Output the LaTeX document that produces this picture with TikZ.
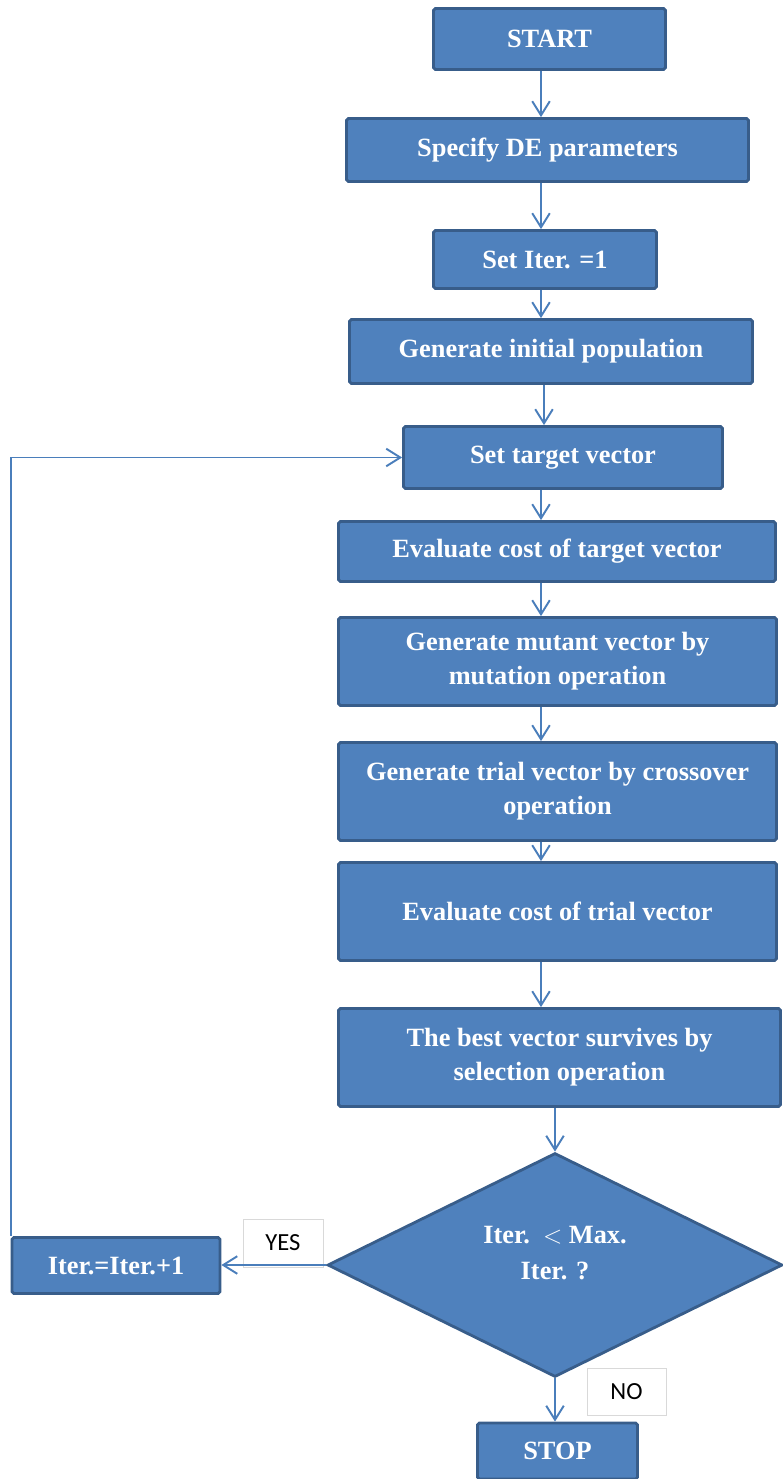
\documentclass[tikz,border=0pt]{standalone}
\usepackage{fontspec}
\setmainfont{Liberation Serif}
\newfontfamily\labelfont{Carlito}
\usepackage{tikz}
\usetikzlibrary{shapes.geometric, arrows.meta, positioning}
\definecolor{boxfill}{HTML}{4F81BD}
\definecolor{boxline}{HTML}{385D8A}
\definecolor{arrowblue}{HTML}{4A7EBB}
\definecolor{labelline}{HTML}{D9D9D9}

\begin{document}
\begin{tikzpicture}[
    x=0.02cm, y=-0.02cm,
    stepbox/.style={rectangle, draw=boxline, fill=boxfill, line width=1.6pt, rounded corners=1pt,
        text=white, align=center, font=\bfseries\fontsize{15}{19.5}\selectfont},
    decision/.style={diamond, aspect=2, draw=boxline, fill=boxfill, line width=1.6pt, inner sep=0pt,
        text=white, font=\bfseries\fontsize{15}{20}\selectfont},
    answer/.style={rectangle, draw=labelline, fill=white, line width=0.5pt,
        font=\labelfont\fontsize{14}{16}\selectfont},
    arrow/.style={-{Straight Barb[length=8pt,width=10pt]}, draw=arrowblue, line width=1.1pt}
]
    \useasboundingbox (0,0) rectangle (783,1479);

    % Main column
    \node[stepbox, minimum width=4.64cm, minimum height=1.22cm] (start) at (549.5,39) {START};
    \node[stepbox, minimum width=8.04cm, minimum height=1.26cm] (spec) at (547.5,150) {Specify DE parameters};
    \node[stepbox, minimum width=4.46cm, minimum height=1.16cm] (iter1) at (545,259.5) {Set Iter. =1};
    \node[stepbox, minimum width=8.06cm, minimum height=1.28cm] (init) at (551,351.5) {Generate initial population};
    \node[stepbox, minimum width=6.38cm, minimum height=1.24cm] (target) at (563,457.5) {Set target vector};
    \node[stepbox, minimum width=8.74cm, minimum height=1.20cm] (evtarget) at (557,551.5) {Evaluate cost of target vector};
    \node[stepbox, minimum width=8.76cm, minimum height=1.76cm] (mutant) at (557.5,661.5) {Generate mutant vector by\\mutation operation};
    \node[stepbox, minimum width=8.76cm, minimum height=1.96cm] (trial) at (557.5,791.5) {Generate trial vector by crossover\\operation};
    \node[stepbox, minimum width=8.76cm, minimum height=1.96cm] (evtrial) at (557.5,911.5) {Evaluate cost of trial vector};
    \node[stepbox, minimum width=8.84cm, minimum height=1.96cm] (best) at (559.5,1057.5) {The best vector survives by\\selection operation};

    % Decision
    \node[decision, minimum width=9.1cm, minimum height=4.48cm] (check) at (555,1265)
        {\raisebox{6pt}[\height][\depth]{\begin{tabular}{@{}c@{}}Iter.\ \ $<$ Max.\\Iter. ?\end{tabular}}};
    \node[stepbox, minimum width=4.16cm, minimum height=1.12cm] (iterplus) at (116,1265.5) {Iter.=Iter.+1};
    \node[stepbox, minimum width=3.2cm, minimum height=1.12cm] (stop) at (557.5,1451) {STOP};

    % Labels
    \node[answer, minimum width=1.6cm, minimum height=0.96cm] (yes) at (283,1243) {YES};
    \node[answer, minimum width=1.58cm, minimum height=0.94cm] (no) at (626.5,1391.5) {NO};

    % Arrow columns
    \coordinate (colA) at (541,0);
    \coordinate (colB) at (544,0);
    \coordinate (colC) at (555,0);

    % Arrows
    \draw[arrow] (start.south -| colA) -- (spec.north -| colA);
    \draw[arrow] (spec.south -| colA) -- (iter1.north -| colA);
    \draw[arrow] (iter1.south -| colA) -- (init.north -| colA);
    \draw[arrow] (init.south -| colB) -- (target.north -| colB);
    \draw[arrow] (target.south -| colA) -- (evtarget.north -| colA);
    \draw[arrow] (evtarget.south -| colA) -- (mutant.north -| colA);
    \draw[arrow] (mutant.south -| colA) -- (trial.north -| colA);
    \draw[arrow] (trial.south -| colA) -- (evtrial.north -| colA);
    \draw[arrow] (evtrial.south -| colA) -- (best.north -| colA);
    \draw[arrow] (best.south -| colC) -- (check.north);
    \draw[arrow] (check.south) -- (stop.north -| check.south);
    \draw[arrow] (check.west) -- (iterplus.east |- check.west);

    % Loop back
    \draw[arrow] (iterplus.north west) |- (target.west);
\end{tikzpicture}
\end{document}
